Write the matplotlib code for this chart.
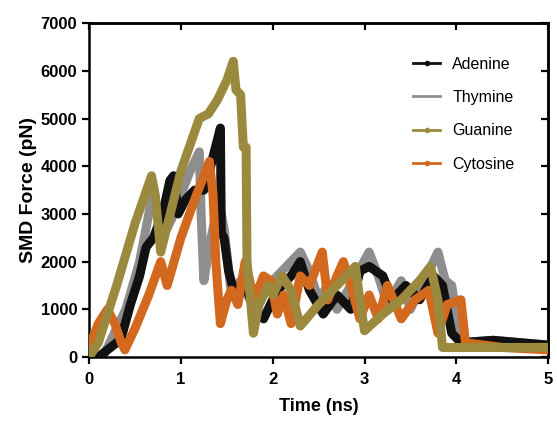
import matplotlib.pyplot as plt

plt.rcParams['font.family'] = ['Liberation Sans', 'DejaVu Sans']

# values (time in ns, force in pN)
adenine_t = [0.1, 0.2, 0.3, 0.35, 0.45, 0.55, 0.62, 0.7, 0.8, 0.88, 0.92, 0.97, 1.05, 1.15, 1.25, 1.3,
             1.35, 1.43, 1.44, 1.47, 1.52, 1.6, 1.7, 1.8, 1.9, 2.0, 2.1, 2.2, 2.3, 2.4, 2.55, 2.7, 2.85,
             2.95, 3.05, 3.2, 3.3, 3.45, 3.6, 3.75, 3.85, 3.95, 4.05, 4.4, 4.7, 5.0]
adenine_F = [0, 150, 300, 400, 1100, 1700, 2300, 2500, 3000, 3700, 3800, 3000, 3300, 3500, 3500, 3800,
             4200, 4800, 2600, 2500, 1800, 1200, 1500, 1000, 800, 1200, 1500, 1700, 2000, 1400, 900, 1300, 1000,
             1800, 1900, 1700, 1200, 1500, 1200, 1700, 1500, 500, 300, 350, 300, 250]

thymine_t = [0.15, 0.25, 0.4, 0.55, 0.7, 0.72, 0.8, 0.9, 1.0, 1.1, 1.2, 1.22, 1.25, 1.3, 1.35, 1.42,
             1.47, 1.55, 1.65, 1.75, 1.85, 1.95, 2.05, 2.15, 2.3, 2.4, 2.5, 2.6, 2.7, 2.85, 3.05, 3.15,
             3.25, 3.4, 3.5, 3.6, 3.8, 3.88, 3.95, 4.05, 4.4, 4.7, 5.0]
thymine_F = [0, 400, 1000, 2000, 3500, 3300, 2500, 2900, 3400, 3900, 4300, 3000, 1600, 2200, 2700, 3200,
             2700, 1300, 1600, 1200, 1100, 1500, 1700, 1900, 2200, 1800, 1200, 1500, 1000, 1500, 2200, 1700,
             1100, 1600, 1000, 1400, 2200, 1600, 1500, 300, 350, 300, 250]

guanine_t = [0, 0.1, 0.3, 0.5, 0.68, 0.72, 0.78, 1.0, 1.2, 1.3, 1.4, 1.5, 1.57, 1.6, 1.65, 1.68, 1.71,
             1.72, 1.79, 1.85, 1.95, 2.0, 2.1, 2.2, 2.3, 2.5, 2.7, 2.9, 2.95, 3.0, 3.2, 3.4, 3.6, 3.72,
             3.8, 3.85, 4.2, 4.6, 5.0]
guanine_F = [0, 300, 1500, 2800, 3800, 3400, 2200, 3900, 5000, 5100, 5400, 5800, 6200, 5600, 5500, 4400, 4400,
             2000, 500, 1100, 1500, 1300, 1700, 1400, 650, 1100, 1500, 1900, 1200, 550, 900, 1200, 1600, 1900,
             1200, 200, 200, 200, 200]

cytosine_t = [0, 0.1, 0.2, 0.28, 0.35, 0.39, 0.5, 0.65, 0.78, 0.85, 1.0, 1.15, 1.31, 1.35, 1.38, 1.43,
              1.5, 1.55, 1.62, 1.7, 1.8, 1.9, 1.98, 2.05, 2.12, 2.2, 2.3, 2.4, 2.54, 2.6, 2.7, 2.77, 2.85,
              2.95, 3.05, 3.15, 3.25, 3.4, 3.55, 3.7, 3.8, 3.9, 4.05, 4.1, 4.5, 5.0]
cytosine_F = [200, 700, 1000, 700, 300, 150, 600, 1300, 2000, 1500, 2500, 3300, 4100, 3400, 2000, 700,
              1200, 1400, 1100, 2000, 1200, 1700, 1600, 900, 1300, 700, 1700, 1500, 2200, 1200, 1700, 2000, 1500,
              800, 1300, 800, 1500, 800, 1200, 1400, 500, 1100, 1200, 300, 200, 150]

fig = plt.figure(figsize=(5.57, 4.21), dpi=100)
ax = fig.add_axes([0.160, 0.152, 0.824, 0.793])

lw = 6.5
ax.plot(thymine_t, thymine_F, color='#8e8e8e', lw=lw, zorder=2, solid_joinstyle='round')
ax.plot(adenine_t, adenine_F, color='#111111', lw=lw, zorder=3, solid_joinstyle='round')
ax.plot(cytosine_t, cytosine_F, color='#d2691e', lw=lw, zorder=4, solid_joinstyle='round')
ax.plot(guanine_t, guanine_F, color='#9b8a3e', lw=lw, zorder=5, solid_joinstyle='round')

# legend handles: thin lines with small dots
h = [ax.plot([], [], color=c, lw=2, marker=m, ms=3)[0]
     for c, m in [('#111111', 'o'), ('#8e8e8e', ''), ('#9b8a3e', 'o'), ('#d2691e', 'o')]]
ax.legend(h, ['Adenine', 'Thymine', 'Guanine', 'Cytosine'], loc='upper left',
          bbox_to_anchor=(0.706, 0.90), frameon=False, fontsize=11.5, handlelength=1.7,
          labelspacing=1.15, handletextpad=0.75, borderpad=0, borderaxespad=0)

ax.set_xlim(0, 5)
ax.set_ylim(0, 7000)
ax.set_xticks(range(0, 6))
ax.set_yticks(range(0, 7001, 1000))
ax.set_xlabel('Time (ns)', fontsize=13, fontweight='bold', labelpad=8)
ax.set_ylabel('SMD Force (pN)', fontsize=14, fontweight='bold', labelpad=3)
for lab in ax.get_xticklabels() + ax.get_yticklabels():
    lab.set_fontweight('bold')
ax.tick_params(direction='out', length=5, width=1.6, labelsize=12)
ax.tick_params(axis='x', pad=6)

for s in ax.spines.values():
    s.set_linewidth(1.8)

# inward ticks on top and right
top = ax.secondary_xaxis('top')
top.set_xticks(range(0, 6))
top.tick_params(direction='in', length=5, width=1.6, labeltop=False)
top.spines['top'].set_linewidth(1.8)
right = ax.secondary_yaxis('right')
right.set_yticks(range(0, 7001, 1000))
right.tick_params(direction='in', length=5, width=1.6, labelright=False)
right.spines['right'].set_linewidth(1.8)

fig.savefig('out.png', dpi=100)
